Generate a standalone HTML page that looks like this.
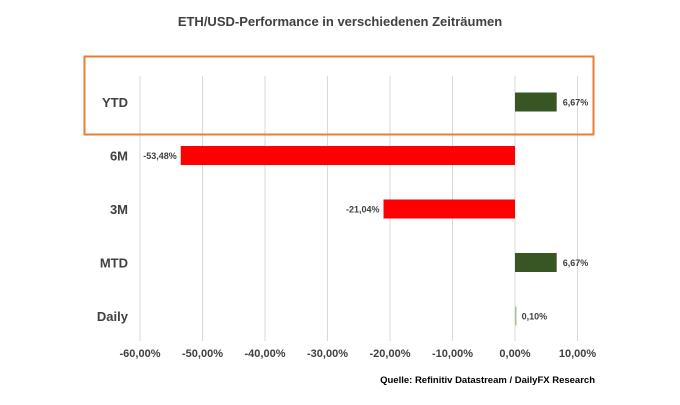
<!DOCTYPE html>
<html><head><meta charset="utf-8"><style>
body{margin:0;background:#fff;font-family:"Liberation Sans",sans-serif}
svg{display:block}
</style></head><body>
<svg width="680" height="405">
<text x="340" y="26" text-anchor="middle" font-size="13" font-weight="bold" fill="#404040">ETH/USD-Performance in verschiedenen Zeiträumen</text>
<g id="grid"></g>
<g id="bars"></g>
<g id="ticks"></g>
<rect x="84.5" y="56.5" width="509" height="78" fill="none" stroke="#ED7D31" stroke-width="2"/>
<text x="595" y="383" text-anchor="end" font-size="9.5" font-weight="bold" fill="#000">Quelle: Refinitiv Datastream / DailyFX Research</text>
</svg>
<script>
const categories=["YTD","6M","3M","MTD","Daily"];
const values=[6.67,-53.48,-21.04,6.67,0.10];
const valueLabels=["6,67%","-53,48%","-21,04%","6,67%","0,10%"];
const ticks=[-60,-50,-40,-30,-20,-10,0,10];
const tickLabels=["-60,00%","-50,00%","-40,00%","-30,00%","-20,00%","-10,00%","0,00%","10,00%"];
const NS="http://www.w3.org/2000/svg";
const x=v=>515+v*6.25;
const yc=i=>102+i*53.5;
function mk(t,a,p){const e=document.createElementNS(NS,t);for(const k in a)e.setAttribute(k,a[k]);p.appendChild(e);return e;}
const G=document.getElementById('grid'),B=document.getElementById('bars'),T=document.getElementById('ticks');
ticks.forEach((t,i)=>{
 const l=mk('line',{x1:x(t),x2:x(t),y1:76,y2:341,stroke:'#d9d9d9','stroke-width':1},G);
 
 
 const tx=mk('text',{x:x(t),y:357,'text-anchor':'middle','font-size':11,'font-weight':'bold',fill:'#404040'},T);
 tx.textContent=tickLabels[i];
 
 
});
categories.forEach((c,i)=>{
 const cy=yc(i),v=values[i];
 const lab=mk('text',{x:128,y:cy+5,'text-anchor':'end','font-size':13,'font-weight':'bold',fill:'#404040'},B);
 lab.textContent=c;
 
 
 const x0=Math.min(x(0),x(v)),w=Math.max(Math.abs(x(v)-x(0)),1.5);
 const col=v<0?'#FF0000':(v<1?'#A9C08F':'#375623');
 const r=mk('rect',{x:x0,y:cy-9.5,width:w,height:19,fill:col},B);
 
 
 const vt=mk('text',{x:v<0?x(v)-4:x(v)+6,y:cy+3.5,'text-anchor':v<0?'end':'start','font-size':9,'font-weight':'bold',fill:'#404040'},B);
 vt.textContent=valueLabels[i];
 
 
});
</script>
</body></html>
